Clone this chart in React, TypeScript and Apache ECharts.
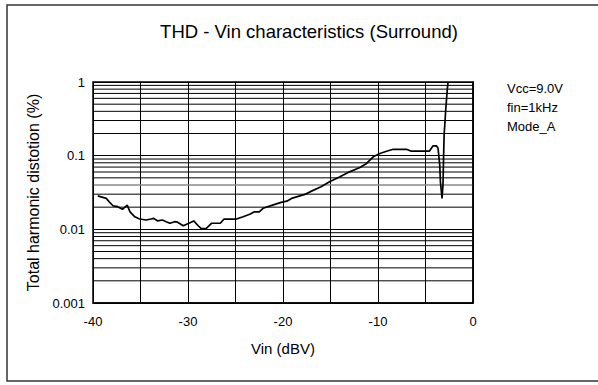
import React, { useEffect, useRef } from "react";
import * as echarts from "echarts";

const vin = [
  -39.5, -38.6, -38.3, -37.9, -37.4, -36.9, -36.4, -36.1, -35.6, -35.1, -34.4, -33.9, -33.6, -33.2,
  -32.7, -32.3, -31.9, -31.4, -31.1, -30.5, -29.9, -29.4, -28.9, -28.6, -28.1, -27.5, -26.6, -26.2,
  -24.9, -24.2, -23.5, -23.0, -22.5, -22.1, -21.1, -20.2, -19.6, -19.1, -17.7, -17.0, -16.0, -15.1,
  -14.0, -13.0, -11.9, -11.2, -10.5, -9.8, -9.1, -8.4, -7.0, -6.5, -4.6, -4.2, -3.85, -3.68, -3.5,
  -3.43, -3.26, -3.16, -3.1, -3.04, -2.86, -2.7, -2.62,
];
const thd = [
  0.0285, 0.0263, 0.0237, 0.0209, 0.0203, 0.0187, 0.0213, 0.0173, 0.0148, 0.0138, 0.0134, 0.0138,
  0.0141, 0.013, 0.0134, 0.0127, 0.0121, 0.0127, 0.0125, 0.0112, 0.0121, 0.013, 0.0111, 0.0102,
  0.0102, 0.0121, 0.0121, 0.0138, 0.0138, 0.0148, 0.016, 0.0173, 0.0173, 0.0193, 0.0213, 0.0232,
  0.0241, 0.0263, 0.0298, 0.033, 0.0378, 0.0442, 0.0516, 0.0603, 0.069, 0.0784, 0.0964, 0.107,
  0.115, 0.122, 0.122, 0.115, 0.115, 0.136, 0.136, 0.126, 0.0743, 0.0442, 0.0263, 0.0398, 0.0916,
  0.19, 0.436, 0.813, 1.0,
];
const yTickLabels = ["0.001", "0.01", "0.1", "1"];
const decades = [0.001, 0.01, 0.1];
const minorMultipliers = [2, 3, 4, 5, 6, 7, 8, 9];
const xRange = [-40, 0];
const notes = ["Vcc=9.0V", "fin=1kHz", "Mode_A"];

const FONT = "'Liberation Sans', Arial, sans-serif";

export default function App() {
  const ref = useRef<HTMLDivElement>(null);
  useEffect(() => {
    document.body.style.margin = "0";
    if (!ref.current) return;
    const chart = echarts.init(ref.current, null, { renderer: "svg" });
    const minorSeries: any[] = [];
    decades.forEach((d) => {
      minorMultipliers.forEach((m) => {
        const v = +(d * m).toPrecision(3);
        const gray = Math.abs(v - 0.04) < 1e-9;
        minorSeries.push({
          type: "line",
          data: [
            [xRange[0], v],
            [xRange[1], v],
          ],
          symbol: "none",
          silent: true,
          z: gray ? 2 : 1,
          lineStyle: { color: gray ? "#8a8a8a" : "#000", width: gray ? 1.5 : 1 },
        });
      });
    });
    const data = vin.map((x, i) => [x, thd[i]]);
    chart.setOption({
      animation: false,
      backgroundColor: "#fff",
      title: {
        text: "THD - Vin characteristics (Surround)",
        left: 304,
        top: 17,
        textAlign: "center",
        textStyle: { fontFamily: FONT, fontSize: 18.5, fontWeight: "normal", color: "#000" },
      },
      grid: { left: 93, top: 82, width: 380, height: 221, containLabel: false },
      xAxis: {
        type: "value",
        min: -40,
        max: 0,
        interval: 5,
        name: "Vin (dBV)",
        nameLocation: "middle",
        nameGap: 38,
        nameTextStyle: { fontFamily: FONT, fontSize: 15, color: "#000" },
        axisLine: { show: true, onZero: false, lineStyle: { color: "#000", width: 1.5 } },
        axisTick: { show: false },
        axisLabel: {
          margin: 12,
          fontFamily: FONT,
          fontSize: 13,
          color: "#000",
          formatter: (v: number) => (v % 10 === 0 ? String(v) : ""),
        },
        splitLine: { show: true, lineStyle: { color: "#000", width: 1 } },
      },
      yAxis: {
        type: "log",
        logBase: 10,
        min: 0.001,
        max: 1,
        name: "Total harmonic distotion (%)",
        nameLocation: "middle",
        nameRotate: 90,
        nameGap: 50,
        nameTextStyle: { fontFamily: FONT, fontSize: 16, color: "#000" },
        axisLine: { show: true, lineStyle: { color: "#000", width: 1.5 } },
        axisTick: { show: true, length: 3, lineStyle: { color: "#000" } },
        axisLabel: {
          margin: 8,
          fontFamily: FONT,
          fontSize: 13,
          color: "#000",
          formatter: (v: number) => {
            const idx = Math.round(Math.log10(v)) + 3;
            return yTickLabels[idx] ?? "";
          },
        },
        splitLine: { show: true, lineStyle: { color: "#000", width: 1 } },
      },
      graphic: [
        {
          type: "rect",
          shape: { x: 7, y: 5, width: 620, height: 376 },
          style: { fill: "none", stroke: "#333", lineWidth: 1.5 },
          silent: true,
        },
        {
          type: "rect",
          shape: { x: 93, y: 82, width: 380, height: 221 },
          style: { fill: "none", stroke: "#000", lineWidth: 1.5 },
          silent: true,
          z: 100,
        },
        ...notes.map((t, i) => ({
          type: "text",
          left: 507,
          top: 82 + i * 19,
          style: { text: t, font: `13px ${FONT}`, fill: "#000" },
        })),
      ],
      series: [
        ...minorSeries,
        {
          type: "line",
          data,
          showSymbol: false,
          symbol: "none",
          lineStyle: { color: "#000", width: 1.7 },
          clip: true,
          z: 10,
        },
      ],
    });
    return () => chart.dispose();
  }, []);
  return <div ref={ref} style={{ width: 598, height: 385 }} />;
}
